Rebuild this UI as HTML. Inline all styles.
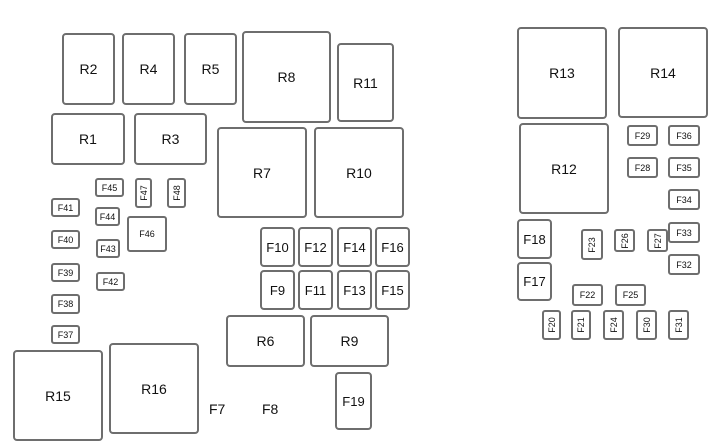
<!DOCTYPE html>
<html><head><meta charset="utf-8"><style>
html,body{margin:0;padding:0;background:#fff;width:722px;height:447px;overflow:hidden;position:relative;font-family:"Liberation Sans",Arial,sans-serif;color:#111}
.b{position:absolute;box-sizing:border-box;border:2px solid #6e6e6e;border-radius:4px;display:flex;align-items:center;justify-content:center;font-size:14px}
.s{font-size:9px;border-radius:3px}
.m{font-size:13px}
.v span{transform:rotate(-90deg);display:inline-block;white-space:nowrap}
.t{position:absolute;font-size:14px}
</style></head><body>
<div class="b" style="left:62px;top:33px;width:53px;height:72px">R2</div>
<div class="b" style="left:122px;top:33px;width:53px;height:72px">R4</div>
<div class="b" style="left:184px;top:33px;width:53px;height:72px">R5</div>
<div class="b" style="left:242px;top:31px;width:89px;height:92px">R8</div>
<div class="b" style="left:337px;top:43px;width:57px;height:79px">R11</div>
<div class="b" style="left:51px;top:113px;width:74px;height:52px">R1</div>
<div class="b" style="left:134px;top:113px;width:73px;height:52px">R3</div>
<div class="b" style="left:217px;top:127px;width:90px;height:91px">R7</div>
<div class="b" style="left:314px;top:127px;width:90px;height:91px">R10</div>

<div class="b s" style="left:95px;top:178px;width:29px;height:19px">F45</div>
<div class="b s v" style="left:135px;top:178px;width:17px;height:30px"><span>F47</span></div>
<div class="b s v" style="left:167px;top:178px;width:19px;height:30px"><span>F48</span></div>
<div class="b s" style="left:51px;top:198px;width:29px;height:19px">F41</div>
<div class="b s" style="left:95px;top:207px;width:25px;height:19px">F44</div>
<div class="b s" style="left:127px;top:216px;width:40px;height:36px">F46</div>
<div class="b s" style="left:51px;top:230px;width:29px;height:19px">F40</div>
<div class="b s" style="left:96px;top:239px;width:24px;height:19px">F43</div>
<div class="b s" style="left:51px;top:263px;width:29px;height:19px">F39</div>
<div class="b s" style="left:96px;top:272px;width:29px;height:19px">F42</div>
<div class="b s" style="left:51px;top:294px;width:29px;height:20px">F38</div>
<div class="b s" style="left:51px;top:325px;width:29px;height:19px">F37</div>

<div class="b" style="left:13px;top:350px;width:90px;height:91px">R15</div>
<div class="b" style="left:109px;top:343px;width:90px;height:91px">R16</div>
<div class="t" style="left:209px;top:401px">F7</div>
<div class="t" style="left:262px;top:401px">F8</div>

<div class="b m" style="left:260px;top:227px;width:35px;height:40px">F10</div>
<div class="b m" style="left:298px;top:227px;width:35px;height:40px">F12</div>
<div class="b m" style="left:337px;top:227px;width:35px;height:40px">F14</div>
<div class="b m" style="left:375px;top:227px;width:35px;height:40px">F16</div>
<div class="b m" style="left:260px;top:270px;width:35px;height:40px">F9</div>
<div class="b m" style="left:298px;top:270px;width:35px;height:40px">F11</div>
<div class="b m" style="left:337px;top:270px;width:35px;height:40px">F13</div>
<div class="b m" style="left:375px;top:270px;width:35px;height:40px">F15</div>
<div class="b" style="left:226px;top:315px;width:79px;height:52px">R6</div>
<div class="b" style="left:310px;top:315px;width:79px;height:52px">R9</div>
<div class="b m" style="left:335px;top:372px;width:37px;height:58px">F19</div>

<div class="b" style="left:517px;top:27px;width:90px;height:92px">R13</div>
<div class="b" style="left:618px;top:27px;width:90px;height:91px">R14</div>
<div class="b" style="left:519px;top:123px;width:90px;height:91px">R12</div>
<div class="b s" style="left:627px;top:125px;width:31px;height:21px">F29</div>
<div class="b s" style="left:668px;top:125px;width:32px;height:21px">F36</div>
<div class="b s" style="left:627px;top:157px;width:31px;height:21px">F28</div>
<div class="b s" style="left:668px;top:157px;width:32px;height:21px">F35</div>
<div class="b s" style="left:668px;top:189px;width:32px;height:21px">F34</div>
<div class="b s" style="left:668px;top:222px;width:32px;height:21px">F33</div>
<div class="b s" style="left:668px;top:254px;width:32px;height:21px">F32</div>
<div class="b m" style="left:517px;top:219px;width:35px;height:40px">F18</div>
<div class="b m" style="left:517px;top:262px;width:35px;height:39px">F17</div>
<div class="b s v" style="left:581px;top:229px;width:22px;height:31px"><span>F23</span></div>
<div class="b s v" style="left:614px;top:229px;width:21px;height:23px"><span>F26</span></div>
<div class="b s v" style="left:647px;top:229px;width:21px;height:23px"><span>F27</span></div>
<div class="b s" style="left:572px;top:284px;width:31px;height:22px">F22</div>
<div class="b s" style="left:615px;top:284px;width:31px;height:22px">F25</div>
<div class="b s v" style="left:542px;top:310px;width:19px;height:30px"><span>F20</span></div>
<div class="b s v" style="left:571px;top:310px;width:20px;height:30px"><span>F21</span></div>
<div class="b s v" style="left:603px;top:310px;width:21px;height:30px"><span>F24</span></div>
<div class="b s v" style="left:636px;top:310px;width:21px;height:30px"><span>F30</span></div>
<div class="b s v" style="left:668px;top:310px;width:21px;height:30px"><span>F31</span></div>
</body></html>
